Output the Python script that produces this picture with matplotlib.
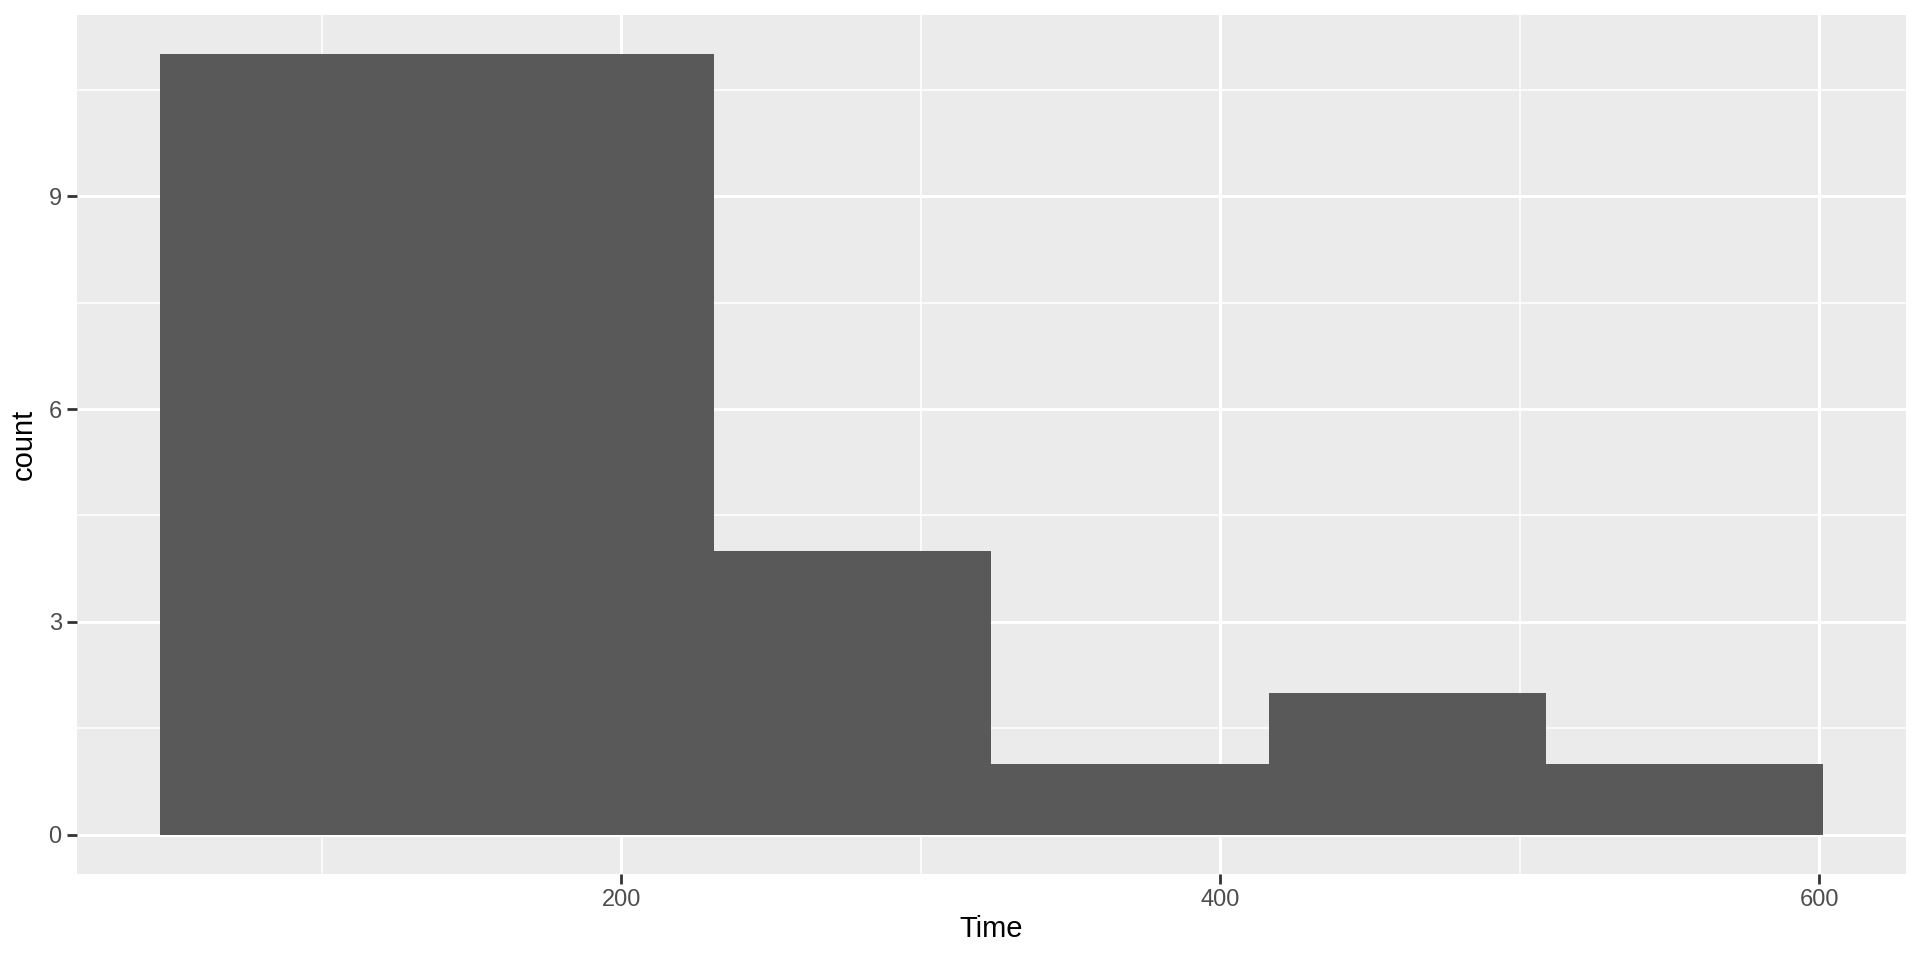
import matplotlib
matplotlib.use('Agg')
import matplotlib.pyplot as plt
import numpy as np

# histogram bins
bin_edges = [46.1, 138.6, 231.1, 323.6, 416.2, 508.7, 601.2]
counts = [11, 11, 4, 1, 2, 1]
x_ticks = [200, 400, 600]
x_minor = [100, 300, 500]
y_ticks = [0, 3, 6, 9]
y_minor = [1.5, 4.5, 7.5, 10.5]

plt.rcParams['font.family'] = ['Liberation Sans', 'DejaVu Sans']

fig = plt.figure(figsize=(19.2, 9.6), dpi=100)
ax = fig.add_axes([77 / 1920, 1 - 874 / 960, (1906 - 77) / 1920, (874 - 15) / 960])
ax.set_facecolor('#EBEBEB')

centers = [(a + b) / 2 for a, b in zip(bin_edges[:-1], bin_edges[1:])]
ax.hist(centers, bins=bin_edges, weights=counts, color='#595959', zorder=3)

span = bin_edges[-1] - bin_edges[0]
ax.set_xlim(bin_edges[0] - 0.05 * span, bin_edges[-1] + 0.05 * span)
ax.set_ylim(-0.05 * max(counts), max(counts) * 1.05)

ax.set_xticks(x_ticks)
ax.set_xticks(x_minor, minor=True)
ax.set_yticks(y_ticks)
ax.set_yticks(y_minor, minor=True)
ax.grid(which='major', color='white', linewidth=2.2, zorder=1)
ax.grid(which='minor', color='white', linewidth=1.1, zorder=1)
ax.set_axisbelow(True)

for s in ax.spines.values():
    s.set_visible(False)
ax.tick_params(which='major', length=7, width=2, color='#333333',
               labelsize=17, labelcolor='#4D4D4D', pad=4)
ax.tick_params(which='minor', length=0)

ax.set_xlabel('Time', fontsize=21, color='black', labelpad=3)
ax.set_ylabel('count', fontsize=21, color='black', labelpad=8)

fig.savefig('out.png', dpi=100)
plt.close(fig)
